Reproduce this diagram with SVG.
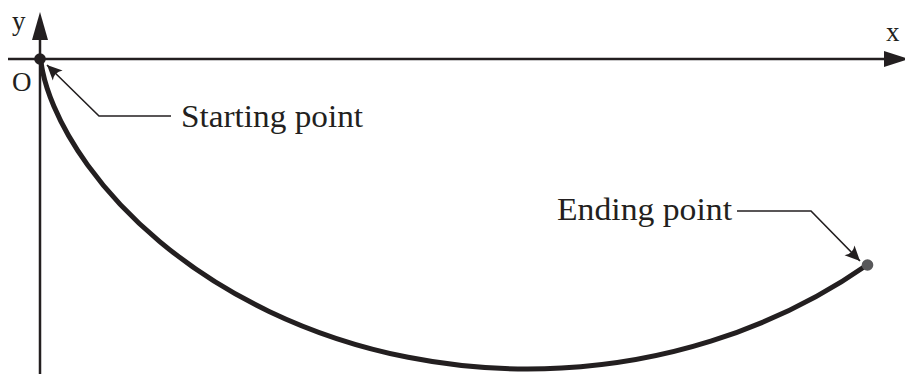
<svg xmlns="http://www.w3.org/2000/svg" width="905" height="374" viewBox="0 0 905 374">
  <style>
    .axis { stroke: #231f20; stroke-width: 2.5; fill: none; }
    .curve { stroke: #231f20; stroke-width: 5; fill: none; stroke-linecap: round; }
    .leader { stroke: #231f20; stroke-width: 1.6; fill: none; }
    .lbl { font-family: "Liberation Serif", "Times New Roman", serif; font-size: 32px; fill: #231f20; }
    .ax { font-family: "Liberation Serif", "Times New Roman", serif; font-size: 27px; fill: #231f20; }
  </style>
  <defs>
    <marker id="arr" markerUnits="userSpaceOnUse" markerWidth="18" markerHeight="16" refX="16" refY="8" orient="auto">
      <path d="M16,8 L1,1 Q6,8 1,15 Z" fill="#231f20"/>
    </marker>
  </defs>
  <rect width="905" height="374" fill="#ffffff"/>
  <g id="axes">
    <line class="axis" x1="8" y1="59" x2="888" y2="59"/>
    <polygon points="884,51 884,67 909,59" fill="#231f20"/>
    <line class="axis" x1="40" y1="374" x2="40" y2="36"/>
    <polygon points="32,40 48,40 40,12" fill="#231f20"/>
    <text class="ax" x="12" y="30">y</text>
    <text class="ax" x="886" y="41">x</text>
    <text class="ax" x="12" y="91">O</text>
  </g>
  <g id="curve">
    <path class="curve" d="M41,59 C41,59 40.97,63.15 42.6,71.2 C44.23,79.25 47.53,91.17 53.8,106 C60.85,122.68 71.78,143.04 87.7,165.1 C105.39,189.62 129.26,216.18 159.7,241.6 C190.14,267.02 227.04,291.3 269.1,311.4 C311.16,331.5 358.39,347.44 408.1,357.3 C457.81,367.16 509.98,370.9 561.5,368.1 C613.02,365.3 663.77,355.97 710.8,341.2 C770.81,322.36 824.53,294.64 867,265"/>
  </g>
  <g id="start-point">
    <circle cx="40" cy="59" r="5.8" fill="#231f20"/>
    <text class="lbl" x="181" y="127" textLength="182" lengthAdjust="spacingAndGlyphs">Starting point</text>
  </g>
  <g id="end-point">
    <circle cx="867.5" cy="265" r="5.8" fill="#58585a"/>
    <text class="lbl" x="557" y="220" textLength="175" lengthAdjust="spacingAndGlyphs">Ending point</text>
  </g>
  <g id="connectors">
    <polyline class="leader" points="171,116 99,116 47,65" marker-end="url(#arr)"/>
    <polyline class="leader" points="737,211 811,211 860,261" marker-end="url(#arr)"/>
  </g>
</svg>
